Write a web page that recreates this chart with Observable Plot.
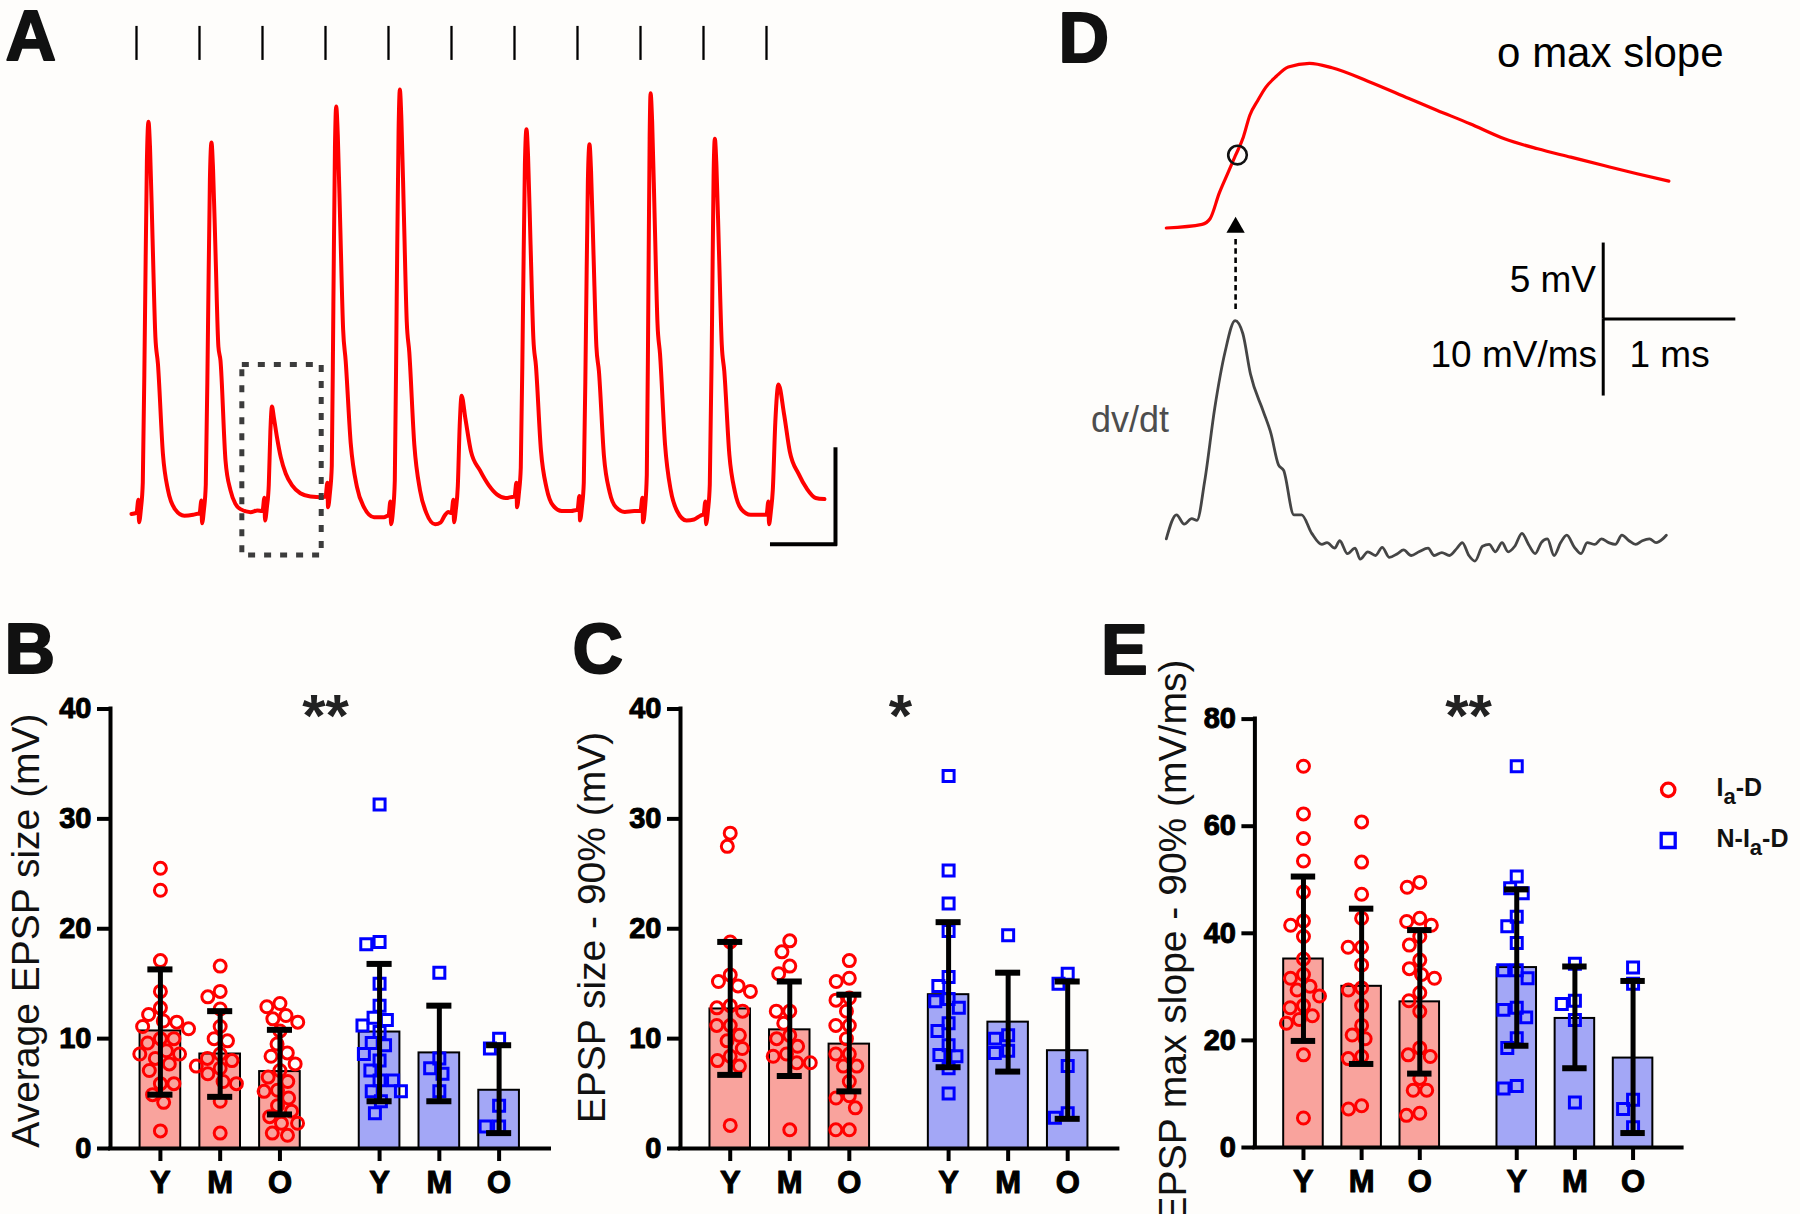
<!DOCTYPE html>
<html><head><meta charset="utf-8">
<script src="https://cdn.jsdelivr.net/npm/d3@7"></script>
<script src="https://cdn.jsdelivr.net/npm/@observablehq/plot@0.6"></script>
<style>
html,body{margin:0;padding:0;background:#fefdfb;}
#fig{position:relative;width:1800px;height:1214px;overflow:hidden;background:#fefdfb;}
#fig svg{position:absolute;overflow:visible;background:transparent;}
</style></head><body><div id="fig"></div>
<script>
// ---------------- DATA ----------------
const ageGroups = ["Y","M","O","Y","M","O"];
const cellTypes = ["Ia-D","Ia-D","Ia-D","N-Ia-D","N-Ia-D","N-Ia-D"];
const slotPos = [1, 2, 3, 4.667, 5.667, 6.667];

// Panel B: Average EPSP size (mV)
const sizeMean = [10.7, 8.6, 7.0, 10.6, 8.7, 5.3];
const sizeHi   = [16.3, 12.5, 10.8, 16.8, 13.0, 9.4];
const sizeLo   = [4.9, 4.7, 3.1, 4.3, 4.3, 1.4];
const sizePts = [
  [25.5,23.5,17.1,14.3,12.8,12.2,11.6,11.5,11.1,10.9,10.0,10.0,9.6,8.9,8.6,8.6,8.2,7.7,7.1,5.9,5.9,4.9,4.2,1.6],
  [16.6,14.3,13.8,12.7,11.1,10.0,9.8,8.6,8.2,8.0,7.5,7.3,6.8,6.1,5.9,4.3,1.4],
  [13.2,12.9,12.1,11.8,11.5,10.7,9.5,8.7,8.4,7.7,7.1,6.5,6.1,5.3,5.2,4.6,3.9,3.4,2.9,2.3,2.3,1.4,1.2],
  [31.3,18.8,18.6,15.0,13.0,11.9,11.7,11.2,10.6,9.6,9.4,8.6,8.0,7.1,6.2,6.2,5.2,5.2,4.3,3.2],
  [16.0,8.2,7.3,6.8,5.2],
  [10.0,9.1,3.9,2.0,2.0]
];

// Panel C: EPSP size - 90% (mV)
const size90Mean = [12.7, 10.8, 9.5, 14.0, 11.5, 8.9];
const size90Hi   = [18.8, 15.2, 14.0, 20.6, 16.0, 15.2];
const size90Lo   = [6.7, 6.6, 5.2, 7.4, 7.0, 2.7];
const size90Pts = [
  [28.7,27.5,18.8,15.8,15.2,14.8,14.3,13.0,12.8,12.5,11.2,11.2,10.3,9.8,9.1,8.4,8.0,7.5,2.1],
  [18.9,17.9,16.6,15.9,12.5,12.5,11.4,10.3,10.0,9.3,8.6,8.4,7.8,7.8,1.7],
  [17.1,15.5,15.2,13.7,13.5,12.5,11.2,11.2,10.0,8.6,8.6,7.5,7.5,6.1,4.8,4.6,3.7,1.7,1.7],
  [33.9,25.3,22.3,19.8,15.6,14.8,13.6,13.4,12.8,11.4,10.7,9.4,8.5,8.4,7.3,5.0],
  [19.4,10.3,10.0,8.9,8.7],
  [15.9,15.0,7.5,3.2,2.8]
];

// Panel E: EPSP max slope - 90% (mV/ms)
const slopeMean = [35.2, 30.1, 27.2, 33.6, 24.1, 16.7];
const slopeHi   = [50.6, 44.6, 40.6, 48.2, 33.8, 31.1];
const slopeLo   = [19.9, 15.6, 13.8, 19.0, 14.8, 2.7];
const slopePts = [
  [71.2,62.3,57.7,53.5,47.7,42.3,41.5,39.4,35.2,32.3,31.6,30.1,29.4,28.3,26.5,26.1,24.6,23.9,23.2,17.3,5.5],
  [60.8,53.3,47.3,42.8,37.4,37.4,34.1,29.8,29.4,26.5,22.8,21.0,20.3,17.0,16.6,7.8,7.2],
  [49.5,48.6,42.8,42.2,41.5,39.4,37.8,35.0,33.4,32.3,31.6,28.9,27.4,25.4,18.6,17.3,17.0,12.9,10.7,10.7,6.4,6.0],
  [71.2,50.6,48.4,47.5,43.1,41.3,38.2,33.1,33.1,31.6,26.1,25.7,24.3,20.4,18.6,11.5,11.0],
  [34.3,27.4,26.8,23.8,8.4],
  [33.6,30.6,8.9,7.2,3.8]
];

// Panel A: membrane potential trace [time ms, mV], stimuli every 10 ms
const stimTimes = [0,10,20,30,40,50,60,70,80,90,100];
const traceA = [
  [-0.8,-0.06],
  [0,0],[0.3,0.7],[0.4,-0.5],[0.7,0.2],[1.0,1.6],[1.35,10.4],[1.65,18.6],[1.9,20.7],[2.15,19.3],[2.55,14.5],[3.0,9.3],[3.4,7.9],[4.2,3.1],[5.0,1.2],[6.1,0.2],[7.6,-0.15],[9.0,-0.1],[9.7,-0.05],
  [10,-0.05],[10.3,0.65],[10.4,-0.55],[10.7,0.15],[11.0,1.5],[11.35,9.8],[11.65,17.6],[11.9,19.6],[12.15,18.2],[12.55,13.7],[13.0,8.8],[13.33,8.06],[14.13,2.77],[14.92,1.19],[15.7,0.48],[16.5,0.2],[18.1,0.04],[19.2,0.13],[19.9,0.1],
  [20,0.1],[20.3,0.8],[20.4,-0.4],[20.7,0.3],[21.0,1.5],[21.25,4.3],[21.5,5.63],[21.8,5.06],[22.3,4.0],[22.9,2.95],[23.7,2.07],[24.7,1.45],[26.0,1.04],[27.6,0.87],[29.5,0.83],[29.9,0.85],
  [30,0.85],[30.3,1.6],[30.4,0.3],[30.7,1.05],[31.0,2.5],[31.25,11.0],[31.5,19.3],[31.7,21.5],[31.95,20.0],[32.35,15.1],[32.8,9.7],[33.2,8.06],[34.0,3.7],[35.0,1.36],[36.1,0.3],[37.7,-0.23],[39.3,-0.23],[39.9,-0.15],
  [40,-0.15],[40.3,0.6],[40.4,-0.6],[40.7,0.05],[41.0,1.7],[41.3,11.2],[41.6,20.2],[41.8,22.4],[42.05,20.8],[42.45,15.7],[42.9,10.1],[43.3,8.5],[44.1,3.6],[45.0,1.2],[46.0,0.0],[47.4,-0.6],[48.3,-0.5],[48.9,-0.15],[49.5,0.05],[49.9,0.0],
  [50,0],[50.3,0.7],[50.4,-0.5],[50.7,0.2],[51.0,1.4],[51.3,4.6],[51.6,6.2],[52.2,5.0],[53.1,3.24],[54.5,2.26],[55.9,1.47],[57.2,0.98],[58.6,0.79],[59.9,0.85],
  [60,0.85],[60.3,1.6],[60.4,0.3],[60.7,1.05],[61.0,2.4],[61.35,10.8],[61.65,18.4],[61.9,20.3],[62.15,18.9],[62.55,14.2],[63.0,9.2],[63.4,7.8],[64.2,3.3],[65.1,1.3],[66.1,0.4],[67.5,0.1],[69.0,0.1],[69.9,0.15],
  [70,0.15],[70.3,0.9],[70.4,-0.4],[70.7,0.3],[71.0,1.6],[71.35,9.9],[71.65,17.6],[71.9,19.5],[72.15,18.1],[72.55,13.6],[73.0,8.8],[73.4,7.5],[74.2,3.0],[75.1,1.1],[76.1,0.3],[77.5,0.05],[79.0,0.1],[79.9,0.1],
  [80,0.1],[80.3,0.8],[80.4,-0.5],[80.7,0.2],[81.0,2.0],[81.25,11.5],[81.45,19.8],[81.6,22.2],[81.85,20.7],[82.25,15.6],[82.7,10.0],[83.1,8.4],[83.9,3.6],[84.8,1.2],[85.8,0.1],[87.3,-0.4],[88.5,-0.35],[89.5,-0.15],[89.9,-0.1],
  [90,-0.1],[90.3,0.6],[90.4,-0.6],[90.7,0.1],[91.0,1.5],[91.35,10.0],[91.6,17.8],[91.8,19.8],[92.05,18.4],[92.45,13.9],[92.9,8.9],[93.3,7.5],[94.1,3.1],[95.0,1.1],[96.0,0.2],[97.5,-0.1],[99.0,-0.1],[99.9,-0.1],
  [100,-0.1],[100.3,0.6],[100.4,-0.6],[100.7,0.1],[101.0,1.2],[101.4,4.8],[101.9,6.8],[102.8,5.2],[103.7,3.24],[105.1,2.06],[106.4,1.28],[107.8,0.79],[109.2,0.73]
];

// Panel D: single EPSP [ms, mV] and its derivative [ms, mV/ms]
const vmTrace = [
  [0,0],[0.27,0.24],[0.33,0.61],[0.40,2.31],[0.46,3.53],[0.52,4.74],[0.58,5.96],[0.63,7.42],[0.69,8.39],[0.75,9.25],
  [0.83,9.98],[0.92,10.59],[1.08,10.83],[1.25,10.54],[1.52,9.66],[1.83,8.52],[2.04,7.75],[2.29,6.86],[2.55,5.87],
  [2.80,5.21],[3.05,4.66],[3.30,4.11],[3.55,3.57],[3.79,3.08]
];
const maxSlopePoint = [0.537, 4.8];
const dvdtTrace = [
  [0.000,1.25],[0.077,4.37],[0.135,3.17],[0.192,3.89],[0.231,3.65],[0.289,8.70],[0.366,18.31],[0.443,25.52],[0.519,29.60],
  [0.577,27.92],[0.635,22.64],[0.731,17.83],[0.789,14.95],[0.846,10.86],[0.885,10.14],[0.962,4.37],[1.020,4.37],[1.097,1.97],
  [1.173,0.53],[1.212,0.77],[1.270,0.05],[1.308,1.01],[1.366,-0.67],[1.424,0.05],[1.462,-1.39],[1.520,-0.43],[1.578,-0.91],
  [1.628,0.15],[1.682,-1.15],[1.743,-0.67],[1.789,-0.19],[1.847,-0.91],[1.905,-0.43],[1.974,0.05],[2.020,-0.91],[2.078,-0.53],
  [2.135,-0.91],[2.193,0.05],[2.232,0.77],[2.282,-0.91],[2.328,-1.63],[2.385,0.29],[2.435,0.53],[2.482,-0.43],[2.532,0.77],
  [2.578,-0.43],[2.628,0.29],[2.682,1.97],[2.732,0.53],[2.782,-0.67],[2.828,0.77],[2.874,1.25],[2.924,-0.91],[2.974,0.77],
  [3.020,1.73],[3.078,0.15],[3.128,-0.67],[3.174,0.77],[3.232,0.53],[3.282,1.25],[3.336,0.77],[3.386,0.53],[3.436,1.73],
  [3.490,1.01],[3.540,0.53],[3.590,1.01],[3.644,1.25],[3.694,0.77],[3.744,1.25],[3.771,1.73]
];

// ---------------- LAYOUT ----------------
const FONT = '"Liberation Sans", Arial, Helvetica, sans-serif';
const RED = "#ff0000", BLUE = "#0000ff";
const RED_BAR = "#f9a39d", BLUE_BAR = "#a3a7f6";
const X_DOMAIN = [0.165, 7.51];
const BAR_HALF = 0.34, CAP_HALF = 0.21;
const fig = document.getElementById("fig");

function place(svg, left, top) {
  svg.style.left = left + "px";
  svg.style.top = top + "px";
  fig.appendChild(svg);
}

// deterministic beeswarm (pixel offsets), largest values first
function swarm(values, pxPerY, diam) {
  const order = values.map((v, i) => i).sort((a, b) => values[b] - values[a]);
  const placed = [];
  const offs = new Array(values.length);
  for (const i of order) {
    const y = values[i] * pxPerY;
    const cands = [0];
    for (const p of placed) {
      const dy = Math.abs(p.y - y);
      if (dy < diam) {
        const dx = Math.sqrt(diam * diam - dy * dy);
        cands.push(p.x - dx, p.x + dx);
      }
    }
    cands.sort((a, b) => Math.abs(a) - Math.abs(b));
    let best = 0;
    for (const c of cands) {
      if (placed.every(p => (p.x - c) ** 2 + (p.y - y) ** 2 >= diam * diam - 1e-6)) { best = c; break; }
    }
    placed.push({x: best, y});
    offs[i] = best;
  }
  return offs;
}

const labelOf = new Map(slotPos.map((p, i) => [p, ageGroups[i]]));

function barPanel(g, means, his, los, pts, yTicks) {
  const pxX = (g.width - g.mL - g.mR) / (X_DOMAIN[1] - X_DOMAIN[0]);
  const pxY = (g.height - g.mT - g.mB) / g.yMax;
  const bars = means.map((m, i) => ({pos: slotPos[i], mean: m, hi: his[i], lo: los[i], type: cellTypes[i]}));
  const dots = [];
  pts.forEach((vals, i) => {
    const offs = swarm(vals, pxY, 13.5);
    vals.forEach((v, j) => dots.push({x: slotPos[i] + offs[j] / pxX, v, type: cellTypes[i]}));
  });
  const isA = d => d.type === "Ia-D";
  const isN = d => d.type !== "Ia-D";
  return Plot.plot({
    width: g.width, height: g.height,
    marginLeft: g.mL, marginRight: g.mR, marginTop: g.mT, marginBottom: g.mB,
    style: {fontFamily: FONT, fontSize: "29px", background: "transparent", overflow: "visible", color: "#000"},
    x: {domain: X_DOMAIN},
    y: {domain: [0, g.yMax]},
    marks: [
      Plot.rect(bars.filter(isA), {x1: d => d.pos - BAR_HALF, x2: d => d.pos + BAR_HALF, y1: 0, y2: "mean", fill: RED_BAR, stroke: "#000", strokeWidth: 2}),
      Plot.rect(bars.filter(isN), {x1: d => d.pos - BAR_HALF, x2: d => d.pos + BAR_HALF, y1: 0, y2: "mean", fill: BLUE_BAR, stroke: "#000", strokeWidth: 2}),
      Plot.dot(dots.filter(isA), {x: "x", y: "v", r: 6, stroke: RED, strokeWidth: 3, fill: "none"}),
      Plot.dot(dots.filter(isN), {x: "x", y: "v", r: 6.2, symbol: "square", stroke: BLUE, strokeWidth: 3, fill: "none"}),
      Plot.ruleX(bars, {x: "pos", y1: "lo", y2: "hi", stroke: "#000", strokeWidth: 5}),
      Plot.ruleY(bars, {x1: d => d.pos - CAP_HALF, x2: d => d.pos + CAP_HALF, y: "hi", stroke: "#000", strokeWidth: 6}),
      Plot.ruleY(bars, {x1: d => d.pos - CAP_HALF, x2: d => d.pos + CAP_HALF, y: "lo", stroke: "#000", strokeWidth: 6}),
      Plot.ruleX([X_DOMAIN[0]], {stroke: "#000", strokeWidth: 4, strokeLinecap: "square"}),
      Plot.ruleY([0], {stroke: "#000", strokeWidth: 4, strokeLinecap: "square"}),
      Plot.axisY({ticks: yTicks, tickSize: 13, tickPadding: 6, fontSize: 29, fontWeight: "bold", strokeWidth: 4, textStroke: "#000", textStrokeWidth: 1, label: null, tickFormat: d => String(d)}),
      Plot.axisX({ticks: slotPos, tickSize: 13, tickPadding: 9, fontSize: 31, fontWeight: "bold", strokeWidth: 4, textStroke: "#000", textStrokeWidth: 1, label: null, tickFormat: d => labelOf.get(d)})
    ]
  });
}

const geomB = {width: 580, height: 614, mL: 110, mR: 31, mT: 108.5, mB: 66, yMax: 40};
const geomC = {width: 580, height: 614, mL: 110, mR: 32.6, mT: 108.5, mB: 66, yMax: 40};
const geomE = {width: 660, height: 614, mL: 114.4, mR: 118.4, mT: 118.6, mB: 67, yMax: 80};

place(barPanel(geomB, sizeMean, sizeHi, sizeLo, sizePts, [0, 10, 20, 30, 40]), 0, 600);
place(barPanel(geomC, size90Mean, size90Hi, size90Lo, size90Pts, [0, 10, 20, 30, 40]), 570, 600);
place(barPanel(geomE, slopeMean, slopeHi, slopeLo, slopePts, [0, 20, 40, 60, 80]), 1140, 600);

// ---- Panel A ----
const boxA = {t1: 16.8, t2: 29.4, v1: -2.25, v2: 7.83};
const barA = {t: 110.95, v: -1.66, ms: 10, mV: 5};
const stimTick = {v1: 23.94, v2: 25.74};
place(Plot.plot({
  width: 900, height: 580, margin: 0,
  style: {background: "transparent", overflow: "visible"},
  x: {domain: [-21.587, 121.27], axis: null},
  y: {domain: [-3.577, 27.111], axis: null},
  marks: [
    Plot.ruleX(stimTimes, {y1: stimTick.v1, y2: stimTick.v2, stroke: "#000", strokeWidth: 2.3}),
    Plot.line(traceA, {x: d => d[0], y: d => d[1], stroke: RED, strokeWidth: 4, curve: "monotone-x", strokeLinejoin: "round"}),
    Plot.rect([boxA], {x1: "t1", x2: "t2", y1: "v1", y2: "v2", fill: "none", stroke: "#3c3c3c", strokeWidth: 5, strokeDasharray: "7,9"}),
    Plot.ruleX([barA.t], {y1: barA.v, y2: barA.v + barA.mV, stroke: "#000", strokeWidth: 4, strokeLinecap: "square"}),
    Plot.ruleY([barA.v], {x1: barA.t - barA.ms, x2: barA.t, stroke: "#000", strokeWidth: 4, strokeLinecap: "square"})
  ]
}), 0, 0);

// ---- Panel D ----
const barD = {t: 3.295, v: -5.99, d: 29.8};
place(Plot.plot({
  width: 800, height: 600, margin: 0,
  style: {background: "transparent", overflow: "visible"},
  x: {domain: [-1.2504, 4.7828], axis: null},
  y: {domain: [-24.507, 14.967], axis: null},
  marks: [
    Plot.line(vmTrace, {x: d => d[0], y: d => d[1], stroke: RED, strokeWidth: 3.2, curve: "monotone-x"}),
    Plot.dot([maxSlopePoint], {x: d => d[0], y: d => d[1], r: 9.3, stroke: "#111", strokeWidth: 2.6, fill: "none"}),
    Plot.ruleX([barD.t], {y1: barD.v, y2: barD.v + 5, stroke: "#000", strokeWidth: 3}),
    Plot.ruleY([barD.v], {x1: barD.t, x2: barD.t + 1, stroke: "#000", strokeWidth: 3})
  ]
}), 1000, 0);

const arrowD = {t: 0.5226, d1: 31.04, d2: 40.42, head: 41.71};
place(Plot.plot({
  width: 800, height: 600, margin: 0,
  style: {background: "transparent", overflow: "visible"},
  x: {domain: [-1.2504, 4.7828], axis: null},
  y: {domain: [-6.753, 71.17], axis: null},
  marks: [
    Plot.line(dvdtTrace, {x: d => d[0], y: d => d[1], stroke: "#454545", strokeWidth: 2.8, curve: "monotone-x"}),
    Plot.ruleX([barD.t], {y1: barD.d - 10, y2: barD.d, stroke: "#000", strokeWidth: 3}),
    Plot.ruleX([arrowD.t], {y1: arrowD.d1, y2: arrowD.d2, stroke: "#000", strokeWidth: 2.6, strokeDasharray: "5.5,3.7"}),
    Plot.dot([arrowD], {x: "t", y: "head", symbol: "triangle", r: 6.8, fill: "#000", stroke: "none"})
  ]
}), 1000, 0);

// ---- Text overlay (page pixel coordinates, baselines) ----
const ctx = document.createElement("canvas").getContext("2d");
function tw(str, size) { ctx.font = `bold ${size}px ${FONT}`; return ctx.measureText(str).width; }

const panelLetters = [
  {t: "A", x: 5, y: 59}, {t: "B", x: 4, y: 672}, {t: "C", x: 572, y: 672},
  {t: "D", x: 1058, y: 61}, {t: "E", x: 1100.5, y: 673}
];
const stars = [{t: "**", x: 325, y: 735}, {t: "*", x: 900, y: 735}, {t: "**", x: 1468, y: 735}];
const yTitles = [
  {t: "Average EPSP size (mV)", x: 38.5, y: 930},
  {t: "EPSP size - 90% (mV)", x: 604, y: 927},
  {t: "EPSP max slope - 90% (mV/ms)", x: 1185, y: 940.5}
];
const dStart = [{t: "o max slope", x: 1496.6, y: 66, s: 42}, {t: "1 ms", x: 1629, y: 366.7, s: 37}];
const dEnd = [{t: "5 mV", x: 1595.5, y: 291.7, s: 37}, {t: "10 mV/ms", x: 1596.5, y: 366.7, s: 37}];
const dvdtLabel = [{t: "dv/dt", x: 1090.5, y: 431}];

const legendItems = [
  {parts: ["I", "a", "-D"], sym: "circle", color: RED, cy: 789.3, base: 795},
  {parts: ["N-I", "a", "-D"], sym: "square", color: BLUE, cy: 840, base: 846}
];
const legSymX = 1667.7, legTextX = 1716, legMain = 25, legSub = 22;
const legendText = [];
for (const it of legendItems) {
  let x = legTextX;
  it.parts.forEach((p, k) => {
    const sub = k === 1;
    const size = sub ? legSub : legMain;
    legendText.push({t: p, x, y: it.base + (sub ? 8.5 : 0), s: size});
    x += tw(p, size);
  });
}

place(Plot.plot({
  width: 1800, height: 1214, margin: 0,
  x: {domain: [0, 1800], range: [0, 1800], axis: null},
  y: {domain: [0, 1214], range: [0, 1214], axis: null},
  style: {fontFamily: FONT, background: "transparent", overflow: "hidden"},
  marks: [
    Plot.text(panelLetters, {x: "x", y: "y", text: "t", fontFamily: FONT, fontSize: 70, fontWeight: "bold", textAnchor: "start", lineAnchor: "bottom", fill: "#111", stroke: "#111", strokeWidth: 2}),
    Plot.text(stars, {x: "x", y: "y", text: "t", fontFamily: FONT, fontSize: 60, fontWeight: "bold", textAnchor: "middle", lineAnchor: "bottom", fill: "#222"}),
    Plot.text(yTitles, {x: "x", y: "y", text: "t", fontFamily: FONT, fontSize: 39, rotate: -90, textAnchor: "middle", lineAnchor: "bottom", fill: "#111"}),
    Plot.text(dStart, {x: "x", y: "y", text: "t", fontFamily: FONT, fontSize: d => d.s, textAnchor: "start", lineAnchor: "bottom", fill: "#000"}),
    Plot.text(dEnd, {x: "x", y: "y", text: "t", fontFamily: FONT, fontSize: d => d.s, textAnchor: "end", lineAnchor: "bottom", fill: "#000"}),
    Plot.text(dvdtLabel, {x: "x", y: "y", text: "t", fontFamily: FONT, fontSize: 36, textAnchor: "start", lineAnchor: "bottom", fill: "#4d4d4d"}),
    Plot.dot(legendItems.filter(d => d.sym === "circle"), {x: () => legSymX, y: "cy", r: 6.7, stroke: RED, strokeWidth: 3.3, fill: "none"}),
    Plot.dot(legendItems.filter(d => d.sym === "square"), {x: () => legSymX, y: "cy", r: 7.9, symbol: "square", stroke: BLUE, strokeWidth: 3.3, fill: "none"}),
    Plot.text(legendText, {x: "x", y: "y", text: "t", fontFamily: FONT, fontSize: d => d.s, fontWeight: "bold", textAnchor: "start", lineAnchor: "bottom", fill: "#111"})
  ]
}), 0, 0);
</script></body></html>
